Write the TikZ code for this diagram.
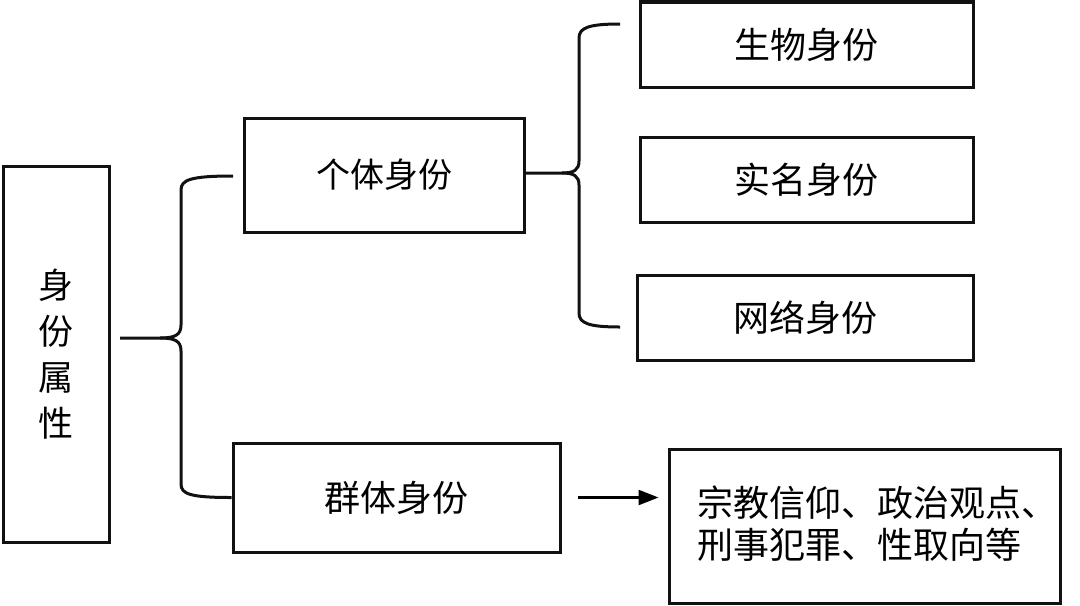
\documentclass[tikz,border=0pt]{standalone}
\usepackage{fontspec}
\newfontfamily\cjk{Noto Sans CJK SC}
\usepackage{tikz}
\usetikzlibrary{positioning, calc, arrows.meta}
\definecolor{Ink}{HTML}{111111}

\begin{document}
\begin{tikzpicture}[x=0.5pt, y=-0.5pt, line width=1.5pt,
    box/.style={draw=Ink, rectangle, inner sep=0pt, font=\cjk\fontsize{18}{21}\selectfont},
    brace/.style={draw=Ink, line width=1.5pt}]
\useasboundingbox (0,0) rectangle (1080,605);

% boxes
\node[box, minimum width=53pt, minimum height=188pt, align=center,
      font=\cjk\fontsize{17.5}{23}\selectfont] (attr) at (56,354) {身\\份\\属\\性};
\node[box, minimum width=140pt, minimum height=57pt,
      font=\cjk\fontsize{17}{21}\selectfont] (indiv) at (384,175) {个体身份};
\node[box, minimum width=163.5pt, minimum height=54.5pt] (group) at (396.5,497.5) {群体身份};
\node[box, minimum width=166.5pt, minimum height=42.5pt] (bio) at (806.5,44.5) {生物身份};
\node[box, minimum width=166.5pt, minimum height=42.5pt] (real) at (806.5,179.5) {实名身份};
\node[box, minimum width=168pt, minimum height=42.5pt] (net) at (805,317.5) {网络身份};
\node[box, minimum width=195.5pt, minimum height=77pt] (detail) at (864.5,526) {};
\node[font=\cjk\fontsize{18}{21}\selectfont, align=left, inner sep=0pt]
      (detailtxt) at (877,524) {宗教信仰、政治观点、\\刑事犯罪、性取向等};

% brace from the left box
\coordinate (tipA) at (120,338);
\coordinate (topA) at (233,176);
\draw[brace] (tipA) -- (160,338) .. controls (175,338) and (181,335) .. (181,325)
    -- (181,190) .. controls (181,180) and (190,176) .. (topA);
\draw[brace] (160,338) .. controls (175,338) and (181,341) .. (181,351)
    -- (181,484) .. controls (181,494) and (190,497.5) .. (group.west);

% brace from the individual box
\coordinate (tipB) at (578,173);
\coordinate (topB) at (620,24);
\coordinate (botB) at (620,327);
\draw[brace] (indiv.east |- tipB) -- (562,173) .. controls (574,173) and (579,170) .. (579,161)
    -- (579,38) .. controls (579,28) and (588,24) .. (topB);
\draw[brace] (562,173) .. controls (574,173) and (579,176) .. (579,185)
    -- (579,313) .. controls (579,323) and (588,327) .. (botB);

% arrow to the details
\draw[-{Triangle[length=10pt, width=7.5pt]}, line width=1.2pt]
    ([xshift=8pt]group.east) -- ([xshift=-4.5pt]detail.west |- group.east);
\end{tikzpicture}
\end{document}
